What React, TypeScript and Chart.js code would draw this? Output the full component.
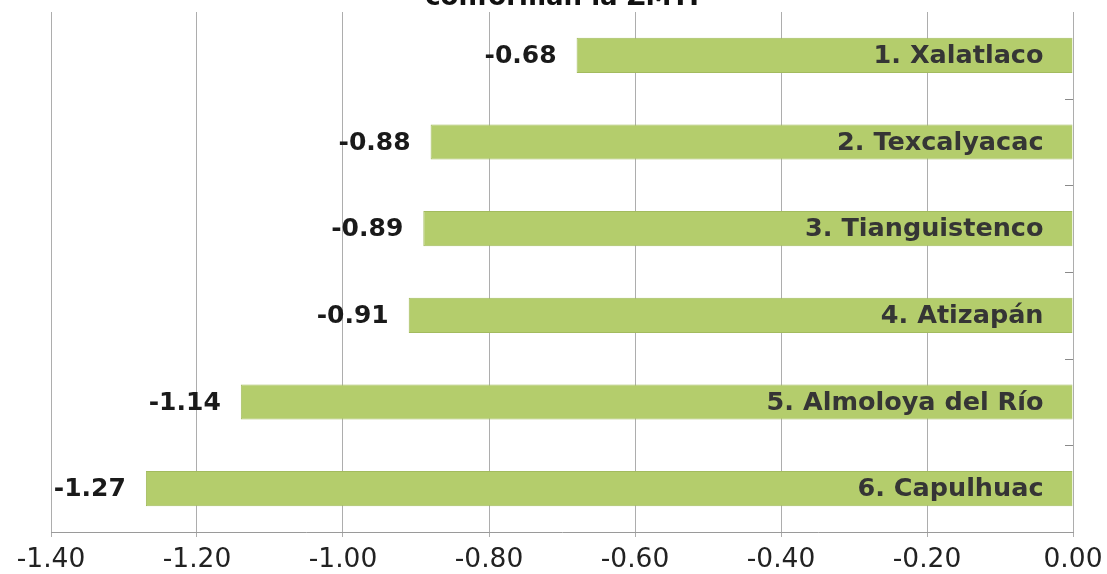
import React, { useEffect, useRef } from "react";
import { Chart, registerables } from "chart.js";

Chart.register(...registerables);

const categories = [
  "1. Xalatlaco",
  "2. Texcalyacac",
  "3. Tianguistenco",
  "4. Atizapán",
  "5. Almoloya del Río",
  "6. Capulhuac",
];
const values = [-0.68, -0.88, -0.89, -0.91, -1.14, -1.27];
const xMin = -1.4;
const xMax = 0;
const xStep = 0.2;
const titleText = "conforman la ZMTI";

const FONT = "'DejaVu Sans', sans-serif";

const labelPlugin = {
  id: "barLabels",
  afterDatasetsDraw(chart: any) {
    const ctx = chart.ctx as CanvasRenderingContext2D;
    const area = chart.chartArea;
    const meta = chart.getDatasetMeta(0);
    ctx.save();
    // small inward ticks on the vertical axis at x = 0
    ctx.strokeStyle = "#8a8a8a";
    ctx.lineWidth = 1;
    const n = categories.length;
    const h = (area.bottom - area.top) / n;
    for (let i = 1; i < n; i++) {
      const yy = Math.round(area.top + i * h) + 0.5;
      ctx.beginPath();
      ctx.moveTo(area.right - 8, yy);
      ctx.lineTo(area.right, yy);
      ctx.stroke();
    }
    meta.data.forEach((el: any, i: number) => {
      const { x, y, base } = el.getProps(["x", "y", "base"], true);
      ctx.textBaseline = "middle";
      ctx.textAlign = "right";
      ctx.font = `bold 25.5px ${FONT}`;
      ctx.fillStyle = "#353535";
      ctx.fillText(categories[i], base - 29, y + 1);
      ctx.font = `bold 25px ${FONT}`;
      ctx.fillStyle = "#1a1a1a";
      ctx.fillText(values[i].toFixed(2), Math.min(x, base) - 20, y + 1);
    });
    // title (partially cut at top)
    ctx.textAlign = "center";
    ctx.textBaseline = "alphabetic";
    ctx.font = `bold 26px ${FONT}`;
    ctx.fillStyle = "#111111";
    ctx.fillText(titleText, (area.left + area.right) / 2, 5);
    ctx.restore();
  },
};

export default function App() {
  const ref = useRef<HTMLCanvasElement>(null);
  useEffect(() => {
    if (!ref.current) return;
    const chart = new Chart(ref.current, {
      type: "bar",
      data: {
        labels: categories,
        datasets: [
          {
            data: values,
            backgroundColor: "#b4cd6c",
            borderColor: "#a3bb5e",
            borderWidth: 1,
            barPercentage: 0.405,
            categoryPercentage: 1,
          },
        ],
      },
      options: {
        indexAxis: "y",
        animation: false,
        responsive: false,
        layout: { padding: { left: 51, right: 34, top: 12, bottom: 0 } },
        plugins: {
          legend: { display: false },
          tooltip: { enabled: false },
          title: { display: false },
        },
        scales: {
          x: {
            type: "linear",
            min: xMin,
            max: xMax,
            ticks: {
              stepSize: xStep,
              color: "#222222",
              font: { family: FONT, size: 26.5 },
              padding: 7,
              maxRotation: 0,
              callback: (v: any) => Number(v).toFixed(2),
            },
            grid: {
              color: "#adadad",
              lineWidth: 1,
              tickLength: 5,
            },
            border: { display: true, color: "#9a9a9a", width: 1 },
            afterFit: (scale: any) => {
              scale.height = 42;
              scale.paddingLeft = 0;
              scale.paddingRight = 0;
            },
          },
          y: {
            type: "category",
            display: false,
          },
        },
      },
      plugins: [labelPlugin],
    } as any);
    return () => chart.destroy();
  }, []);
  return (
    <div style={{ position: "absolute", left: 0, top: 0, width: 1107, height: 574, background: "#fff" }}>
      <canvas ref={ref} width={1107} height={574} style={{ display: "block" }} />
    </div>
  );
}
